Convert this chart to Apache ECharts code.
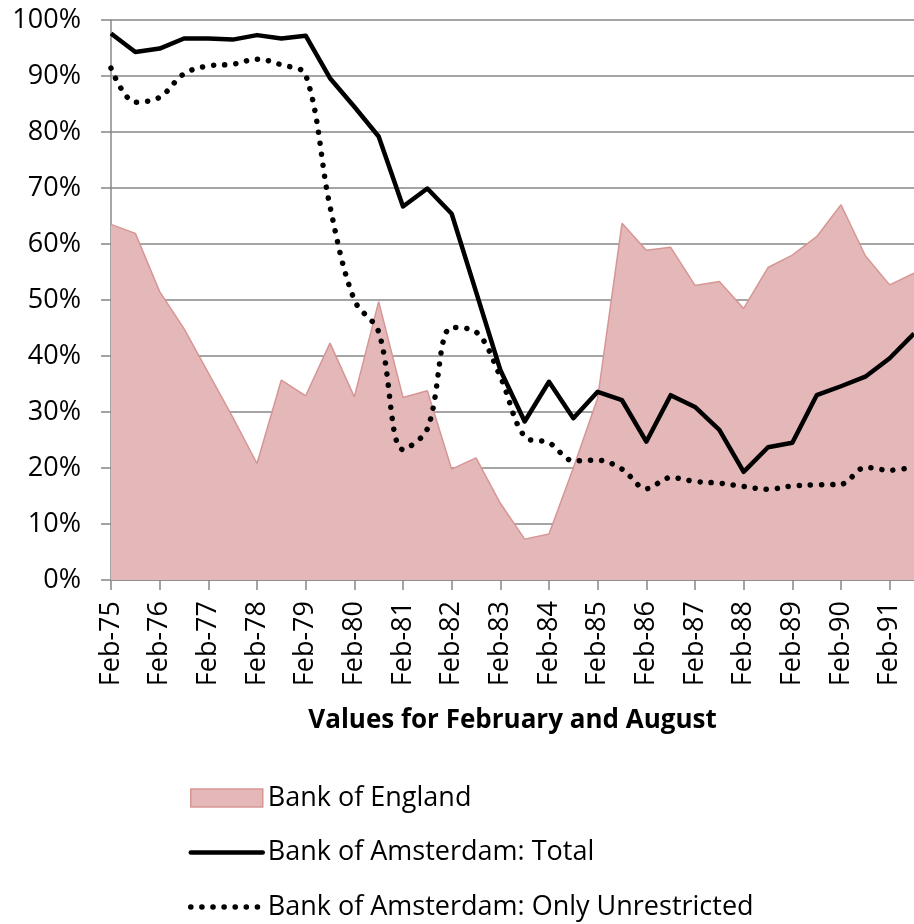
<!DOCTYPE html>
<html>
<head>
<meta charset="utf-8">
<script src="https://cdn.jsdelivr.net/npm/echarts@6/dist/echarts.min.js"></script>
<style>
  html, body { margin: 0; padding: 0; background: #fff; }
  #chart { width: 914px; height: 924px; }
</style>
</head>
<body>
<div id="chart"></div>
<script>
// half-yearly observations, February and August
var categories = [
  "Feb-75", "Aug-75", "Feb-76", "Aug-76", "Feb-77", "Aug-77", "Feb-78", "Aug-78",
  "Feb-79", "Aug-79", "Feb-80", "Aug-80", "Feb-81", "Aug-81", "Feb-82", "Aug-82",
  "Feb-83", "Aug-83", "Feb-84", "Aug-84", "Feb-85", "Aug-85", "Feb-86", "Aug-86",
  "Feb-87", "Aug-87", "Feb-88", "Aug-88", "Feb-89", "Aug-89", "Feb-90", "Aug-90",
  "Feb-91", "Aug-91"
];
var bankOfEngland = [
  63.5, 61.9, 51.5, 44.9, 37.0, 29.1, 20.8, 35.7, 32.9, 42.3, 32.7, 49.7,
  32.6, 33.8, 19.8, 21.8, 13.7, 7.3, 8.2, 20.0, 32.5, 63.7, 58.9, 59.4,
  52.6, 53.3, 48.5, 55.8, 58.0, 61.3, 67.0, 57.9, 52.7, 54.8
];
var amsterdamTotal = [
  97.6, 94.3, 94.9, 96.7, 96.7, 96.5, 97.3, 96.7, 97.2, 89.6, 84.5, 79.2,
  66.7, 69.9, 65.4, 51.5, 37.5, 28.3, 35.4, 28.9, 33.6, 32.1, 24.7, 33.0,
  30.9, 26.8, 19.3, 23.7, 24.5, 33.0, 34.6, 36.3, 39.6, 44.0
];
var amsterdamUnrestricted = [
  91.4, 85.3, 86.2, 90.4, 91.8, 92.1, 93.0, 92.0, 90.2, 66.7, 50.0, 44.3,
  23.3, 27.0, 45.1, 44.3, 36.3, 25.6, 24.5, 21.3, 21.4, 19.8, 16.3, 18.3,
  17.6, 17.3, 16.7, 16.2, 16.8, 17.0, 17.1, 20.1, 19.6, 20.2
];

var FONT = "Open Sans";
var FONT_SIZE = 27;
var GRID_GREY = "#878787";
var DOTS = [0.1, 11];

var chart = echarts.init(document.getElementById("chart"), null, { renderer: "canvas" });

var option = {
  animation: false,
  backgroundColor: "#fff",
  textStyle: { fontFamily: FONT },
  grid: {
    left: 111,
    top: 20,
    right: -6.5,
    bottom: 344,
    containLabel: false
  },
  legend: {
    orient: "vertical",
    left: 188,
    top: 784,
    height: 140,
    padding: 0,
    itemWidth: 72,
    itemHeight: 18,
    itemGap: 26.5,
    selectedMode: false,
    textStyle: { fontFamily: FONT, fontSize: FONT_SIZE, lineHeight: 28, color: "#000" },
    data: [
      {
        name: "Bank of England",
        icon: "rect",
        itemStyle: { color: "#e4b8b8", borderColor: "#d69694", borderWidth: 1.5 }
      },
      {
        name: "Bank of Amsterdam: Total",
        itemStyle: { opacity: 0 },
        lineStyle: { color: "#000", width: 4.5, cap: "round" }
      },
      {
        name: "Bank of Amsterdam: Only Unrestricted",
        itemStyle: { opacity: 0 },
        lineStyle: { color: "#000", width: 5.5, type: DOTS, cap: "round" }
      }
    ]
  },
  xAxis: {
    type: "category",
    data: categories,
    boundaryGap: false,
    name: "Values for February and August",
    nameLocation: "middle",
    nameGap: 128,
    nameTextStyle: { fontFamily: FONT, fontSize: 26, fontWeight: "bold", color: "#000" },
    axisLine: { lineStyle: { color: GRID_GREY, width: 1.5 } },
    axisTick: { show: true, interval: 1, length: 10, lineStyle: { color: GRID_GREY, width: 1.5 } },
    axisLabel: {
      interval: 1,
      rotate: 90,
      margin: 21,
      fontFamily: FONT,
      fontSize: FONT_SIZE,
      color: "#000"
    },
    splitLine: { show: false }
  },
  yAxis: {
    type: "value",
    min: 0,
    max: 100,
    interval: 10,
    axisLine: { show: true, lineStyle: { color: GRID_GREY, width: 1.5 } },
    axisTick: { show: true, length: 10, lineStyle: { color: GRID_GREY, width: 1.5 } },
    axisLabel: {
      formatter: "{value}%",
      margin: 30,
      fontFamily: FONT,
      fontSize: FONT_SIZE,
      color: "#000"
    },
    splitLine: { show: true, lineStyle: { color: GRID_GREY, width: 1.5 } }
  },
  series: [
    {
      name: "Bank of England",
      type: "line",
      data: bankOfEngland,
      symbol: "none",
      color: "#e4b8b8",
      lineStyle: { color: "#d69694", width: 1.5 },
      areaStyle: { color: "#e4b8b8", opacity: 1 },
      z: 1
    },
    {
      name: "Bank of Amsterdam: Total",
      type: "line",
      data: amsterdamTotal,
      symbol: "none",
      color: "#000",
      lineStyle: { color: "#000", width: 4.5, join: "round" },
      z: 3
    },
    {
      name: "Bank of Amsterdam: Only Unrestricted",
      type: "line",
      data: amsterdamUnrestricted,
      symbol: "none",
      smooth: 0.35,
      color: "#000",
      lineStyle: { color: "#000", width: 5.5, type: DOTS, cap: "round" },
      z: 2
    }
  ]
};

chart.setOption(option);
</script>
</body>
</html>
